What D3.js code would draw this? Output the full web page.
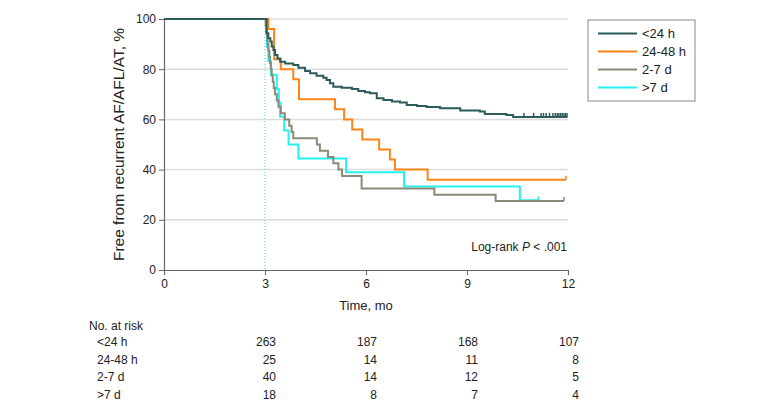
<!DOCTYPE html>
<html>
<head>
<meta charset="utf-8">
<script src="https://cdn.jsdelivr.net/npm/d3@7"></script>
<style>
  html, body { margin: 0; padding: 0; background: #fff; }
  svg text { font-family: "Liberation Sans", "DejaVu Sans", sans-serif; fill: #222; }
</style>
</head>
<body>
<svg id="chart" width="780" height="413"></svg>
<script>
// ---------- DATA ----------
const groups = ["<24 h", "24-48 h", "2-7 d", ">7 d"];
const colors = ["#2d5b5a", "#ff8418", "#8a8a76", "#22f2f2"];

// step times (months) and survival (%) after each step
const lt24Times = [0, 3.05, 3.10, 3.16, 3.20, 3.25, 3.30, 3.37, 3.45, 3.60, 3.84, 3.99, 4.19, 4.34, 4.53, 4.73, 4.83, 4.93, 5.03, 5.28, 5.58, 5.77, 5.97, 6.12, 6.32, 6.52, 6.77, 7.01, 7.21, 7.51, 7.80, 8.20, 8.80, 9.38, 9.53, 10.17, 10.37, 11.98];
const lt24Surv  = [100, 94.3, 92.3, 91.0, 89.0, 87.6, 85.7, 84.3, 83.0, 82.3, 81.7, 80.6, 79.3, 78.4, 77.4, 76.6, 75.7, 74.4, 73.0, 72.6, 72.1, 71.3, 70.8, 70.4, 68.4, 67.7, 67.1, 66.7, 65.7, 65.3, 64.9, 64.4, 63.5, 63.1, 62.2, 61.8, 61.0, 61.0];
const lt24Censor = [10.69, 10.98, 11.2, 11.27, 11.35, 11.45, 11.55, 11.62, 11.68, 11.73, 11.78, 11.83, 11.88, 11.93, 11.97];

const h2448Times = [0, 3.10, 3.27, 3.47, 3.84, 4.01, 5.08, 5.35, 5.59, 5.89, 6.39, 6.71, 6.86, 7.83, 11.94];
const h2448Surv  = [100, 96, 84, 80, 76, 68, 64, 60, 56, 52, 48, 44, 40, 36, 36];
const h2448Censor = [11.94];

const d27Times = [0, 3.02, 3.04, 3.06, 3.08, 3.10, 3.13, 3.15, 3.17, 3.20, 3.23, 3.26, 3.30, 3.35, 3.40, 3.47, 3.59, 3.72, 3.79, 3.84, 4.54, 4.63, 4.87, 5.03, 5.18, 5.29, 5.87, 8.03, 9.85, 11.88];
const d27Surv  = [100, 97.5, 95, 92.5, 90, 87.5, 85, 82.5, 80, 77.5, 75, 72.5, 70, 67.5, 65, 62.5, 60, 57.5, 55, 52.5, 50, 47.5, 45, 42.5, 40, 37.5, 32.5, 30, 27.5, 27.5];
const d27Censor = [11.88];

const gt7Times = [0, 3.03, 3.06, 3.10, 3.18, 3.35, 3.41, 3.45, 3.57, 3.70, 3.99, 5.41, 7.13, 10.57, 11.12];
const gt7Surv  = [100, 94.4, 88.9, 83.3, 77.8, 72.2, 66.7, 61.1, 55.6, 50, 44.4, 38.9, 33.3, 27.8, 27.8];
const gt7Censor = [11.12];

const xTicks = [0, 3, 6, 9, 12];
const yTicks = [0, 20, 40, 60, 80, 100];
const riskTimes = [3, 6, 9, 12];
const riskLt24 = [263, 187, 168, 107];
const risk2448 = [25, 14, 11, 8];
const risk27 = [40, 14, 12, 5];
const riskGt7 = [18, 8, 7, 4];

const seriesTimes = [lt24Times, h2448Times, d27Times, gt7Times];
const seriesSurv = [lt24Surv, h2448Surv, d27Surv, gt7Surv];
const seriesCensor = [lt24Censor, h2448Censor, d27Censor, gt7Censor];
const riskRows = [riskLt24, risk2448, risk27, riskGt7];

// ---------- LAYOUT ----------
const svg = d3.select("#chart");
const pL = 164, pR = 568, pT = 19, pB = 270;
const x = d3.scaleLinear().domain([0, 12]).range([pL, pR]);
const y = d3.scaleLinear().domain([0, 100]).range([pB, pT]);
const fs = 12;

// grid
svg.append("g").selectAll("line").data(yTicks.filter(d => d > 0)).join("line")
  .attr("x1", pL).attr("x2", pR)
  .attr("y1", d => y(d)).attr("y2", d => y(d))
  .attr("stroke", "#dcdcdc").attr("stroke-width", 1.5);

// dotted line at 3 mo
svg.append("line")
  .attr("x1", x(3)).attr("x2", x(3)).attr("y1", y(100)).attr("y2", y(0))
  .attr("stroke", "#3cd6d6").attr("stroke-width", 1).attr("stroke-dasharray", "1,2");

// axes
const yAxis = svg.append("g").attr("transform", `translate(${pL},0)`)
  .call(d3.axisLeft(y).tickValues(yTicks).tickSize(5).tickPadding(3));
const xAxis = svg.append("g").attr("transform", `translate(0,${pB})`)
  .call(d3.axisBottom(x).tickValues(xTicks).tickSize(5).tickPadding(4));
[yAxis, xAxis].forEach(g => {
  g.select(".domain").attr("stroke", "#666").attr("stroke-width", 1.2);
  g.selectAll(".tick line").attr("stroke", "#666");
  g.selectAll("text").style("font-size", fs + "px").attr("fill", "#222");
});

// curves
const line = d3.line().x(d => x(d[0])).y(d => y(d[1])).curve(d3.curveStepAfter);
const drawOrder = [3, 2, 1, 0];
drawOrder.forEach(i => {
  const pts = seriesTimes[i].map((t, k) => [t, seriesSurv[i][k]]);
  svg.append("path").datum(pts).attr("d", line)
    .attr("fill", "none").attr("stroke", colors[i]).attr("stroke-width", 2);
  const survAt = t => {
    let v = 100;
    seriesTimes[i].forEach((tt, k) => { if (tt <= t) v = seriesSurv[i][k]; });
    return v;
  };
  svg.append("g").selectAll("line").data(seriesCensor[i]).join("line")
    .attr("x1", d => x(d)).attr("x2", d => x(d))
    .attr("y1", d => y(survAt(d))).attr("y2", d => y(survAt(d)) - 4)
    .attr("stroke", colors[i]).attr("stroke-width", 1.5);
});

// y label
svg.append("text")
  .attr("transform", `translate(124,${(pT + pB) / 2}) rotate(-90)`)
  .attr("text-anchor", "middle").style("font-size", "15.5px")
  .text("Free from recurrent AF/AFL/AT, %");

// x label
svg.append("text").attr("x", x(6)).attr("y", 310)
  .attr("text-anchor", "middle").style("font-size", "13px").text("Time, mo");

// log-rank
const lr = svg.append("text").attr("x", pR - 1).attr("y", 251)
  .attr("text-anchor", "end").style("font-size", fs + "px");
lr.append("tspan").text("Log-rank ");
lr.append("tspan").style("font-style", "italic").text("P");
lr.append("tspan").text(" < .001");

// legend
const lg = svg.append("g");
lg.append("rect").attr("x", 588).attr("y", 20).attr("width", 107).attr("height", 81)
  .attr("fill", "#fff").attr("stroke", "#888").attr("stroke-width", 1);
groups.forEach((g, i) => {
  const yy = 33.5 + i * 18;
  lg.append("line").attr("x1", 598).attr("x2", 637).attr("y1", yy).attr("y2", yy)
    .attr("stroke", colors[i]).attr("stroke-width", 2);
  lg.append("text").attr("x", 642).attr("y", yy + 4.5).style("font-size", "13px").text(g);
});

// risk table
svg.append("text").attr("x", 89).attr("y", 329.5).style("font-size", fs + "px").text("No. at risk");
groups.forEach((g, i) => {
  const yy = 346 + i * 17.5;
  svg.append("text").attr("x", 97).attr("y", yy).style("font-size", fs + "px").text(g);
  svg.append("g").selectAll("text").data(riskRows[i]).join("text")
    .attr("x", (d, k) => x(riskTimes[k]) + 11).attr("y", yy)
    .attr("text-anchor", "end").style("font-size", fs + "px").text(d => d);
});
</script>
</body>
</html>
